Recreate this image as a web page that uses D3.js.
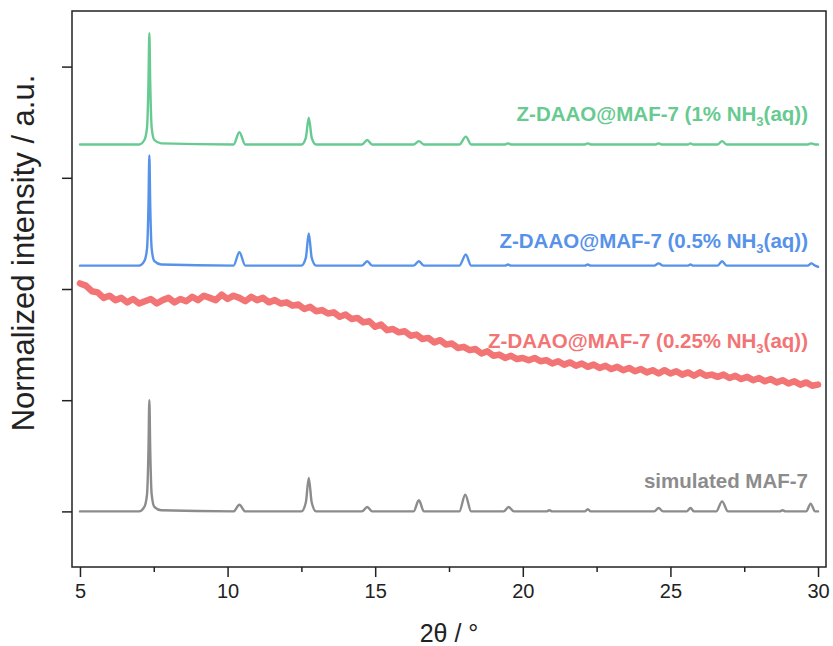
<!DOCTYPE html>
<meta charset="utf-8">
<script src="https://d3js.org/d3.v7.min.js"></script>
<style>
body { margin: 0; background: #fff; }
text { font-family: "Liberation Sans", Arial, sans-serif; }
.axis path, .axis line { stroke: #222; stroke-width: 1.5; }
.axis text { font-size: 20px; fill: #222; }
.trace { fill: none; stroke-linejoin: round; stroke-linecap: round; }
.lbl { font-weight: bold; font-size: 20.5px; text-anchor: end; }
</style>
<body>
<script>
// x ticks (2 theta, degrees)
var xMajor = [5, 10, 15, 20, 25, 30];
var xMinor = [7.5, 12.5, 17.5, 22.5, 27.5];
var yTicks = [0, 1, 2, 3, 4];

// simulated MAF-7 (gray)
var simulated = [[5,0],[7.0,0],[7.18,0.04],[7.27,0.15],[7.32,0.55],[7.35,1.0],[7.38,0.55],[7.43,0.15],[7.52,0.04],[7.75,0.01],
  [10.2,0],[10.4,0.06],[10.6,0],[12.5,0],[12.65,0.08],[12.75,0.30],[12.85,0.08],[13.0,0],[14.55,0],[14.73,0.04],[14.9,0],
  [16.3,0],[16.48,0.10],[16.65,0],[17.85,0],[18.05,0.15],[18.25,0],[19.35,0],[19.52,0.04],[19.7,0],[20.8,0],[20.9,0.01],[21.0,0],
  [22.1,0],[22.2,0.02],[22.3,0],[24.45,0],[24.6,0.03],[24.75,0],[25.55,0],[25.68,0.03],[25.8,0],[26.55,0],[26.75,0.09],[26.95,0],
  [28.7,0],[28.8,0.01],[28.9,0],[29.6,0],[29.75,0.07],[29.9,0],[30,0]];

// Z-DAAO@MAF-7 (0.5% NH3) (blue)
var halfPct = [[5,2.21],[7.0,2.21],[7.18,2.25],[7.27,2.36],[7.32,2.75],[7.35,3.20],[7.38,2.75],[7.43,2.36],[7.52,2.25],[7.75,2.22],
  [10.2,2.21],[10.4,2.33],[10.6,2.21],[12.5,2.21],[12.65,2.28],[12.75,2.50],[12.85,2.28],[13.0,2.21],[14.55,2.21],[14.73,2.25],[14.9,2.21],
  [16.3,2.21],[16.48,2.25],[16.65,2.21],[17.85,2.21],[18.07,2.31],[18.25,2.21],[19.4,2.21],[19.5,2.22],[19.6,2.21],[22.1,2.21],[22.2,2.22],[22.3,2.21],
  [24.45,2.21],[24.6,2.23],[24.75,2.21],[25.6,2.21],[25.68,2.22],[25.76,2.21],[26.6,2.21],[26.75,2.25],[26.9,2.21],[29.65,2.21],[29.77,2.23],[29.9,2.21],[30,2.20]];

// Z-DAAO@MAF-7 (1% NH3) (green)
var onePct = [[5,3.30],[7.0,3.30],[7.18,3.34],[7.27,3.45],[7.32,3.85],[7.35,4.30],[7.38,3.85],[7.43,3.45],[7.52,3.34],[7.75,3.31],
  [10.2,3.30],[10.4,3.41],[10.6,3.30],[12.5,3.30],[12.65,3.36],[12.75,3.54],[12.85,3.36],[13.0,3.30],[14.55,3.30],[14.73,3.34],[14.9,3.30],
  [16.3,3.30],[16.48,3.33],[16.65,3.30],[17.85,3.30],[18.07,3.37],[18.25,3.30],[19.4,3.30],[19.5,3.31],[19.6,3.30],[22.1,3.30],[22.2,3.31],[22.3,3.30],
  [24.5,3.30],[24.6,3.31],[24.7,3.30],[25.6,3.30],[25.68,3.31],[25.76,3.30],[26.6,3.30],[26.75,3.33],[26.9,3.30],[29.65,3.30],[29.77,3.31],[29.9,3.30],[30,3.30]];

// Z-DAAO@MAF-7 (0.25% NH3) (red, amorphous), sampled every 0.2 deg from 5 to 30
var quarterY = [2.05,2.03,1.98,1.97,1.92,1.94,1.90,1.92,1.88,1.91,1.87,1.89,1.91,1.87,1.90,1.92,1.88,1.91,1.89,1.93,
  1.90,1.94,1.92,1.90,1.95,1.91,1.94,1.92,1.89,1.93,1.90,1.92,1.88,1.90,1.87,1.88,1.85,1.86,1.82,1.84,
  1.80,1.81,1.78,1.79,1.75,1.77,1.73,1.74,1.70,1.71,1.66,1.68,1.63,1.64,1.61,1.62,1.58,1.59,1.55,1.56,
  1.52,1.54,1.50,1.51,1.47,1.48,1.45,1.46,1.42,1.44,1.40,1.41,1.38,1.40,1.37,1.38,1.36,1.38,1.35,1.36,
  1.33,1.35,1.32,1.34,1.31,1.33,1.30,1.32,1.29,1.31,1.28,1.30,1.27,1.29,1.26,1.28,1.25,1.27,1.24,1.27,
  1.24,1.26,1.23,1.25,1.22,1.25,1.22,1.23,1.21,1.23,1.20,1.22,1.19,1.21,1.18,1.20,1.17,1.19,1.16,1.18,
  1.15,1.17,1.14,1.16,1.13,1.14];
var quarterPct = quarterY.map(function(v, i) { return [5 + i * 0.2, v]; });

var width = 833, height = 646;
var margin = {left: 72, top: 11, right: 7, bottom: 79};
var w = width - margin.left - margin.right,
    h = height - margin.top - margin.bottom;

var svg = d3.select("body").append("svg")
    .attr("width", width)
    .attr("height", height);

var x = d3.scaleLinear().domain([4.73, 30.27]).range([0, w]);
var y = d3.scaleLinear().domain([-0.5, 4.5]).range([h, 0]);

var g = svg.append("g").attr("transform", "translate(" + margin.left + "," + margin.top + ")");

var line = d3.line()
    .x(function(d) { return x(d[0]); })
    .y(function(d) { return y(d[1]); });

var series = [
  {data: simulated, color: "#8c8c8c", sw: 2.4},
  {data: quarterPct, color: "#f37474", sw: 6.5, linear: true},
  {data: halfPct, color: "#5692ea", sw: 2.4},
  {data: onePct, color: "#67ca90", sw: 2.4}
];

series.forEach(function(s) {
  line.curve(s.linear ? d3.curveLinear : d3.curveMonotoneX);
  g.append("path")
    .attr("class", "trace")
    .attr("d", line(s.data))
    .attr("stroke", s.color)
    .attr("stroke-width", s.sw);
});

// frame
g.append("rect")
  .attr("width", w).attr("height", h)
  .attr("fill", "none").attr("stroke", "#222").attr("stroke-width", 1.5);

g.append("g").attr("class", "axis")
  .attr("transform", "translate(0," + h + ")")
  .call(d3.axisBottom(x).tickValues(xMajor).tickSize(10).tickPadding(7).tickFormat(d3.format("d")));

g.append("g").attr("class", "axis")
  .attr("transform", "translate(0," + h + ")")
  .call(d3.axisBottom(x).tickValues(xMinor).tickSize(5).tickFormat(""));

g.append("g").attr("class", "axis")
  .call(d3.axisLeft(y).tickValues(yTicks).tickSize(10).tickFormat(""));

g.selectAll(".axis .domain").remove();

// axis titles
svg.append("text")
  .attr("x", margin.left + w / 2).attr("y", 642)
  .attr("text-anchor", "middle")
  .attr("font-size", 25).attr("fill", "#222")
  .text("2θ / °");

svg.append("text")
  .attr("transform", "translate(34,253) rotate(-90)")
  .attr("text-anchor", "middle")
  .attr("font-size", 31).attr("fill", "#222")
  .text("Normalized intensity / a.u.");

// trace labels
var labels = [
  {pre: "Z-DAAO@MAF-7 (1% NH", sub: "3", post: "(aq))", y: 121, color: "#67ca90"},
  {pre: "Z-DAAO@MAF-7 (0.5% NH", sub: "3", post: "(aq))", y: 248, color: "#5692ea"},
  {pre: "Z-DAAO@MAF-7 (0.25% NH", sub: "3", post: "(aq))", y: 348, color: "#f37474"},
  {pre: "simulated MAF-7", sub: "", post: "", y: 488, color: "#8c8c8c"}
];

labels.forEach(function(l) {
  var t = svg.append("text").attr("class", "lbl")
    .attr("x", 808).attr("y", l.y).attr("fill", l.color);
  t.append("tspan").text(l.pre);
  if (l.sub) {
    t.append("tspan").attr("font-size", 13).attr("dy", 5).text(l.sub);
    t.append("tspan").attr("dy", -5).text(l.post);
  }
});
</script>
</body>
